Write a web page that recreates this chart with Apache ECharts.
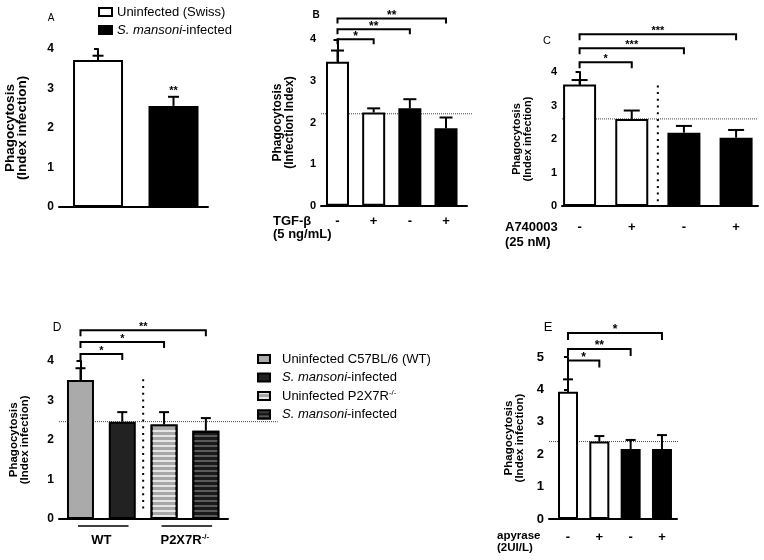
<!DOCTYPE html>
<html><head><meta charset="utf-8">
<script src="https://cdn.jsdelivr.net/npm/echarts@6/dist/echarts.min.js"></script>
<style>html,body{margin:0;padding:0;background:#fff}#c{width:764px;height:560px}</style>
</head><body><div id="c"></div>
<script>
// ---------------- DATA ----------------
const A_groups = ['Uninfected (Swiss)', 'S. mansoni-infected'];
const A_means = [3.72, 2.56];
const A_errTop = [3.83, 2.79];
const A_sig = ['', '**'];

const B_ticks = ['-', '+', '-', '+'];
const B_means = [3.46, 2.24, 2.34, 1.86];
const B_errTop = [3.73, 2.34, 2.56, 2.12];
const B_ref = 2.21;
const B_brackets = [[0, 1, 4.0, '*'], [0, 2, 4.24, '**'], [0, 3, 4.5, '**']];

const C_ticks = ['-', '+', '-', '+'];
const C_means = [3.63, 2.60, 2.19, 2.04];
const C_errTop = [3.76, 2.85, 2.39, 2.27];
const C_ref = 2.60;
const C_brackets = [[0, 1, 4.29, '*'], [0, 2, 4.71, '***'], [0, 3, 5.13, '***']];

const D_groups = ['Uninfected C57BL/6 (WT)', 'S. mansoni-infected', 'Uninfected P2X7R-/-', 'S. mansoni-infected'];
const D_means = [3.51, 2.46, 2.39, 2.23];
const D_errTop = [3.81, 2.70, 2.70, 2.55];
const D_ref = 2.46;
const D_brackets = [[0, 1, 4.17, '*'], [0, 2, 4.47, '*'], [0, 3, 4.77, '**']];
const D_genotypes = ['WT', 'P2X7R-/-'];
const D_genotypeBars = [[0, 1], [2, 3]];

const E_ticks = ['-', '+', '-', '+'];
const E_means = [3.93, 2.39, 2.16, 2.16];
const E_errTop = [4.31, 2.56, 2.44, 2.59];
const E_ref = 2.39;
const E_brackets = [[0, 1, 4.89, '*'], [0, 2, 5.25, '**'], [0, 3, 5.74, '*']];

// ---------------- LAYOUT / STYLE ----------------
const FONT = "'Liberation Sans', Arial, sans-serif";
const chart = echarts.init(document.getElementById('c'));

const grids = [], xAxes = [], yAxes = [], series = [];

function addAxes(idx, cfg) {
  grids.push(Object.assign({ containLabel: false }, cfg.grid));
  xAxes.push({
    gridIndex: idx, type: 'value', min: cfg.xMin, max: cfg.xMax,
    axisLine: { show: true, onZero: false, lineStyle: { color: '#000', width: 2 } },
    axisTick: { show: false }, axisLabel: { show: false }, splitLine: { show: false }
  });
  yAxes.push({
    gridIndex: idx, type: 'value', min: 0, max: cfg.yMax, interval: 1,
    axisLine: { show: true, lineStyle: { color: '#000', width: 2 } },
    axisTick: { show: true, length: 4, lineStyle: { color: '#000', width: 2 } },
    axisLabel: { color: '#000', fontWeight: 'bold', fontSize: cfg.tickFont, margin: 5, fontFamily: FONT },
    splitLine: { show: false },
    name: cfg.name, nameLocation: 'middle', nameRotate: 90, nameGap: cfg.nameGap,
    nameTextStyle: { color: '#000', fontWeight: 'bold', fontSize: cfg.nameFont, lineHeight: cfg.nameLH, fontFamily: FONT }
  });
}

function errSeries(idx, means, tops, cap) {
  series.push({
    type: 'custom', xAxisIndex: idx, yAxisIndex: idx, z: 5, silent: true,
    data: tops.map((t, i) => [i, means[i], t]),
    renderItem: (p, api) => {
      const x = api.value(0), m = api.value(1), t = api.value(2);
      const a = api.coord([x, m]), b = api.coord([x, t]);
      return { type: 'group', children: [
        { type: 'line', shape: { x1: a[0], y1: a[1], x2: b[0], y2: b[1] }, style: { stroke: '#000', lineWidth: 2 } },
        { type: 'line', shape: { x1: b[0] - cap / 2, y1: b[1], x2: b[0] + cap / 2, y2: b[1] }, style: { stroke: '#000', lineWidth: 2 } }
      ] };
    }
  });
}

function bracketSeries(idx, brackets, leg, starFont) {
  series.push({
    type: 'custom', xAxisIndex: idx, yAxisIndex: idx, z: 5, silent: true, clip: false,
    data: brackets.map(b => [b[0], b[1], b[2]]),
    renderItem: (p, api) => {
      const i1 = api.value(0), i2 = api.value(1), y = api.value(2);
      const a = api.coord([i1, y]), b = api.coord([i2, y]);
      return { type: 'group', children: [
        { type: 'polyline', shape: { points: [[a[0], a[1] + leg], [a[0], a[1]], [b[0], b[1]], [b[0], b[1] + leg]] },
          style: { stroke: '#000', lineWidth: 2, fill: null } },
        { type: 'text', style: { text: brackets[p.dataIndex][3], x: (a[0] + b[0]) / 2, y: a[1] - 3,
          align: 'center', verticalAlign: 'middle', textAlign: 'center', textVerticalAlign: 'middle',
          font: 'bold ' + starFont + 'px ' + FONT, fill: '#000' } }
      ] };
    }
  });
}

function refSeries(idx, ref, xFrom, xTo) {
  series.push({
    type: 'custom', xAxisIndex: idx, yAxisIndex: idx, z: 1, silent: true, clip: false,
    data: [[xFrom, ref, xTo]],
    renderItem: (p, api) => {
      const a = api.coord([api.value(0), api.value(1)]), b = api.coord([api.value(2), api.value(1)]);
      return { type: 'line', shape: { x1: a[0], y1: a[1], x2: b[0], y2: b[1] },
        style: { stroke: '#444', lineWidth: 1, lineDash: [1, 1] } };
    }
  });
}

function sepSeries(idx, sep) {
  series.push({
    type: 'custom', xAxisIndex: idx, yAxisIndex: idx, z: 1, silent: true,
    data: [sep],
    renderItem: (p, api) => {
      const a = api.coord([api.value(0), api.value(1)]), b = api.coord([api.value(0), api.value(2)]);
      return { type: 'line', shape: { x1: a[0], y1: a[1], x2: b[0], y2: b[1] },
        style: { stroke: '#000', lineWidth: 2, lineDash: [2, 4.7] } };
    }
  });
}

function tickSeries(idx, ticks, dy, fs) {
  series.push({
    type: 'custom', xAxisIndex: idx, yAxisIndex: idx, z: 5, silent: true, clip: false,
    data: ticks.map((t, i) => [i, 0]),
    renderItem: (p, api) => {
      const a = api.coord([api.value(0), 0]);
      return { type: 'text', style: { text: ticks[p.dataIndex], x: a[0], y: a[1] + dy,
        align: 'center', verticalAlign: 'middle', textAlign: 'center', textVerticalAlign: 'middle',
        font: 'bold ' + fs + 'px ' + FONT, fill: '#000' } };
    }
  });
}

const barBase = { borderColor: '#000', borderWidth: 2 };

// ---- Panel A ----
addAxes(0, { grid: { left: 59, top: 49, width: 149, height: 158 }, xMin: -0.517, xMax: 1.457, yMax: 4,
  tickFont: 12, name: 'Phagocytosis\n(Index infection)', nameFont: 13.5, nameLH: 12, nameGap: 31 });
const A_fill = ['#ffffff', '#000000'];
A_groups.forEach((g, i) => {
  series.push({ type: 'bar', name: g, xAxisIndex: 0, yAxisIndex: 0, barWidth: 50, barGap: '-100%', z: 3,
    itemStyle: Object.assign({ color: A_fill[i] }, barBase), data: [[i, A_means[i]]] });
});
errSeries(0, A_means, A_errTop, 11);
series.push({
  type: 'custom', xAxisIndex: 0, yAxisIndex: 0, z: 5, silent: true,
  data: A_errTop.map((t, i) => [i, t]),
  renderItem: (p, api) => {
    const a = api.coord([api.value(0), api.value(1)]);
    return { type: 'text', style: { text: A_sig[p.dataIndex], x: a[0], y: a[1] - 6, align: 'center', verticalAlign: 'middle',
      textAlign: 'center', textVerticalAlign: 'middle', font: 'bold 11px ' + FONT, fill: '#000' } };
  }
});

// ---- Panel B ----
addAxes(1, { grid: { left: 321, top: 39.3, width: 146, height: 166.4 }, xMin: -0.456, xMax: 3.58, yMax: 4,
  tickFont: 11, name: 'Phagocytosis\n(Infection Index)', nameFont: 12, nameLH: 11.5, nameGap: 26 });
const BCE_fill = ['#ffffff', '#ffffff', '#000000', '#000000'];
refSeries(1, B_ref, -0.456, 3.72);
series.push({ type: 'bar', xAxisIndex: 1, yAxisIndex: 1, barWidth: 23, z: 3,
  data: B_means.map((m, i) => ({ value: [i, m], itemStyle: Object.assign({ color: BCE_fill[i] }, barBase) })) });
errSeries(1, B_means, B_errTop, 13);
bracketSeries(1, B_brackets, 5, 12);
tickSeries(1, B_ticks, 15.5, 13);

// ---- Panel C ----
addAxes(2, { grid: { left: 562, top: 72, width: 196, height: 134 }, xMin: -0.337, xMax: 3.42, yMax: 4,
  tickFont: 11, name: 'Phagocytosis\n(Index infection)', nameFont: 11, nameLH: 11, nameGap: 29 });
refSeries(2, C_ref, -0.337, 3.42);
sepSeries(2, [1.5, 3.6, 0.12]);
series.push({ type: 'bar', xAxisIndex: 2, yAxisIndex: 2, barWidth: 33, z: 3,
  data: C_means.map((m, i) => ({ value: [i, m], itemStyle: Object.assign({ color: BCE_fill[i] }, barBase) })) });
errSeries(2, C_means, C_errTop, 16);
bracketSeries(2, C_brackets, 6, 11);
tickSeries(2, C_ticks, 21, 13);

// ---- Panel D ----
addAxes(3, { grid: { left: 59, top: 360.7, width: 169, height: 158.3 }, xMin: -0.514, xMax: 3.53, yMax: 4,
  tickFont: 12, name: 'Phagocytosis\n(Index infection)', nameFont: 11.5, nameLH: 11, nameGap: 29 });
const D_styles = [
  { color: '#aaaaaa' },
  { color: '#222222' },
  { color: '#a8a8a8', decal: { symbol: 'rect', symbolSize: 1, dashArrayX: [1, 0], dashArrayY: [2, 3], rotation: 0, color: '#e6e6e6' } },
  { color: '#1a1a1a', decal: { symbol: 'rect', symbolSize: 1, dashArrayX: [1, 0], dashArrayY: [1.5, 3], rotation: 0, color: '#5a5a5a' } }
];
refSeries(3, D_ref, -0.514, 4.72);
sepSeries(3, [1.5, 3.53, 0.15]);
D_groups.forEach((g, i) => {
  series.push({ type: 'bar', name: 'D' + i, xAxisIndex: 3, yAxisIndex: 3, barWidth: 27, barGap: '-100%', z: 3,
    itemStyle: Object.assign({}, D_styles[i], barBase), data: [[i, D_means[i]]] });
});
errSeries(3, D_means, D_errTop, 10);
bracketSeries(3, D_brackets, 6, 11);
series.push({
  type: 'custom', xAxisIndex: 3, yAxisIndex: 3, z: 5, silent: true, clip: false,
  data: D_genotypeBars.map(g => [g[0], g[1]]),
  renderItem: (p, api) => {
    const a = api.coord([api.value(0) - 0.06, 0]), b = api.coord([api.value(1) + 0.15, 0]);
    const label = D_genotypes[p.dataIndex].replace('-/-', '{s|-/-}');
    return { type: 'group', children: [
      { type: 'line', shape: { x1: a[0], y1: a[1] + 7, x2: b[0], y2: b[1] + 7 }, style: { stroke: '#000', lineWidth: 1.5 } },
      { type: 'text', style: { text: label, x: (a[0] + b[0]) / 2 - 2, y: a[1] + 21, align: 'center', verticalAlign: 'middle',
        textAlign: 'center', textVerticalAlign: 'middle', font: 'bold 13px ' + FONT, fill: '#000',
        rich: { s: { font: 'bold 8px ' + FONT, fill: '#000', verticalAlign: 'top', padding: [0, 0, 7, 0] } } } }
    ] };
  }
});

// ---- Panel E ----
addAxes(4, { grid: { left: 549, top: 357, width: 128, height: 162 }, xMin: -0.607, xMax: 3.48, yMax: 5,
  tickFont: 13, name: 'Phagocytosis\n(Index infection)', nameFont: 11.5, nameLH: 11, nameGap: 24 });
refSeries(4, E_ref, -0.607, 3.51);
series.push({ type: 'bar', xAxisIndex: 4, yAxisIndex: 4, barWidth: 20, z: 3,
  data: E_means.map((m, i) => ({ value: [i, m], itemStyle: Object.assign({ color: BCE_fill[i] }, barBase) })) });
errSeries(4, E_means, E_errTop, 10);
bracketSeries(4, E_brackets, 7, 12);
tickSeries(4, E_ticks, 18, 13);

// ---------------- LEGENDS ----------------
function richName(n) {
  return n.replace('S. mansoni', '{i|S. mansoni}').replace('-/-', '{s|-/-}');
}
const legendRich = {
  i: { fontStyle: 'italic', fontSize: 13, fontFamily: FONT, color: '#000' },
  s: { fontSize: 8, fontFamily: FONT, color: '#000', verticalAlign: 'top', padding: [0, 0, 6, 0] }
};

// ---------------- TEXT LABELS ----------------
function txt(x, y, text, font, align) {
  return { type: 'text', x: x, y: y, silent: true, style: { text: text, font: font, fill: '#000',
    textAlign: align || 'left', textVerticalAlign: 'middle', align: align || 'left', verticalAlign: 'middle' } };
}

chart.setOption({
  animation: false,
  backgroundColor: '#fff',
  textStyle: { fontFamily: FONT },
  grid: grids, xAxis: xAxes, yAxis: yAxes, series: series,
  legend: [
    { data: A_groups, orient: 'vertical', left: 93, top: 0, itemWidth: 13, itemHeight: 8, itemGap: 4, icon: 'rect',
      textStyle: { fontSize: 13, color: '#000', fontFamily: FONT, lineHeight: 14, rich: legendRich },
      formatter: n => richName(n), selectedMode: false },
    { data: D_groups.map((g, i) => 'D' + i), orient: 'vertical', left: 252, top: 347, itemWidth: 12, itemHeight: 8, itemGap: 4.5, icon: 'rect',
      textStyle: { fontSize: 13, color: '#000', fontFamily: FONT, lineHeight: 14, padding: [0, 0, 0, 7], rich: legendRich },
      formatter: n => richName(D_groups[+n.slice(1)]), selectedMode: false }
  ],
  graphic: [
    txt(51, 18, 'A', '10px ' + FONT, 'center'),
    txt(316, 15, 'B', 'bold 10px ' + FONT, 'center'),
    txt(547, 41, 'C', '11px ' + FONT, 'center'),
    txt(57, 328, 'D', '12px ' + FONT, 'center'),
    txt(548, 327, 'E', '13px ' + FONT, 'center'),
    txt(273, 221, 'TGF-β', 'bold 13px ' + FONT),
    txt(273, 234, '(5 ng/mL)', 'bold 13px ' + FONT),
    txt(505, 227, 'A740003', 'bold 13px ' + FONT),
    txt(505, 242, '(25 nM)', 'bold 13px ' + FONT),
    txt(497, 536, 'apyrase', 'bold 11.5px ' + FONT),
    txt(497, 548, '(2UI/L)', 'bold 11.5px ' + FONT)
  ]
});
</script></body></html>
